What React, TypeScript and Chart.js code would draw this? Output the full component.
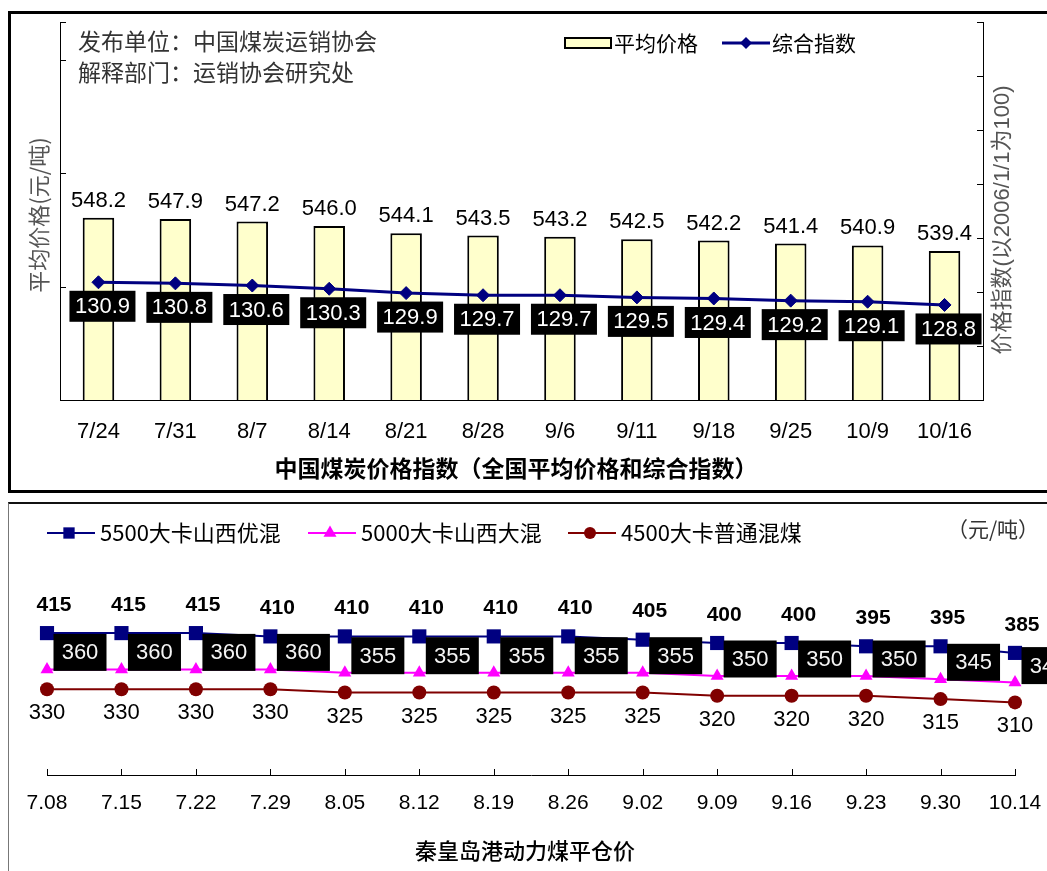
import React, { useEffect, useRef } from "react";
import { Chart, registerables } from "chart.js";

Chart.register(...registerables);

// ---------- data: top chart ----------
const topCategories = ["7/24", "7/31", "8/7", "8/14", "8/21", "8/28", "9/6", "9/11", "9/18", "9/25", "10/9", "10/16"];
const avgPrice = [548.2, 547.9, 547.2, 546.0, 544.1, 543.5, 543.2, 542.5, 542.2, 541.4, 540.9, 539.4];
const priceIndex = [130.9, 130.8, 130.6, 130.3, 129.9, 129.7, 129.7, 129.5, 129.4, 129.2, 129.1, 128.8];
const leftTickValues = [500, 530, 560, 590, 600];
const rightTickValues = [120, 125, 130, 135, 140, 145, 150, 155];

// ---------- data: bottom chart ----------
const bottomCategories = ["7.08", "7.15", "7.22", "7.29", "8.05", "8.12", "8.19", "8.26", "9.02", "9.09", "9.16", "9.23", "9.30", "10.14"];
const coal5500 = [415, 415, 415, 410, 410, 410, 410, 410, 405, 400, 400, 395, 395, 385];
const coal5000 = [360, 360, 360, 360, 355, 355, 355, 355, 355, 350, 350, 350, 345, 340];
const coal4500 = [330, 330, 330, 330, 325, 325, 325, 325, 325, 320, 320, 320, 315, 310];

const LAT = '"Liberation Sans", Arial, "Noto Sans CJK SC", sans-serif';
const NARROW = '"Liberation Sans Narrow", "Arial Narrow", "Liberation Sans", Arial, sans-serif';
const CJK = '"Noto Sans CJK SC", "Liberation Sans", sans-serif';

const NAVY = "#000080";
const MAGENTA = "#FF00FF";
const DARKRED = "#800000";

function drawMarker(ctx: CanvasRenderingContext2D, style: string, x: number, y: number, r: number, color: string) {
  ctx.beginPath();
  if (style === "rect") {
    const s = r * Math.SQRT1_2;
    ctx.rect(x - s, y - s, 2 * s, 2 * s);
  } else if (style === "rectRot") {
    ctx.moveTo(x - r, y);
    ctx.lineTo(x, y - r);
    ctx.lineTo(x + r, y);
    ctx.lineTo(x, y + r);
    ctx.closePath();
  } else if (style === "triangle") {
    let a = 0;
    ctx.moveTo(x + Math.sin(a) * r, y - Math.cos(a) * r);
    a += (2 * Math.PI) / 3;
    ctx.lineTo(x + Math.sin(a) * r, y - Math.cos(a) * r);
    a += (2 * Math.PI) / 3;
    ctx.lineTo(x + Math.sin(a) * r, y - Math.cos(a) * r);
    ctx.closePath();
  } else {
    ctx.arc(x, y, r, 0, Math.PI * 2);
  }
  ctx.fillStyle = color;
  ctx.fill();
}

const topPlugin = {
  id: "topDecor",
  afterDatasetsDraw(chart: any) {
    const ctx: CanvasRenderingContext2D = chart.ctx;
    const xs = chart.scales.x;
    const ys = chart.scales.y;
    const y1 = chart.scales.y1;
    const area = chart.chartArea;
    ctx.save();

    // inside tick marks
    ctx.strokeStyle = "#000";
    ctx.lineWidth = 1;
    leftTickValues.forEach((v) => {
      const py = Math.round(ys.getPixelForValue(v)) + 0.5;
      ctx.beginPath();
      ctx.moveTo(area.left, py);
      ctx.lineTo(area.left + 6, py);
      ctx.stroke();
    });
    rightTickValues.forEach((v) => {
      const py = Math.round(y1.getPixelForValue(v)) + 0.5;
      ctx.beginPath();
      ctx.moveTo(area.right - 6, py);
      ctx.lineTo(area.right, py);
      ctx.stroke();
    });

    // bar value labels
    ctx.textAlign = "center";
    ctx.textBaseline = "middle";
    ctx.fillStyle = "#000";
    ctx.font = `22px ${LAT}`;
    const barMeta = chart.getDatasetMeta(0);
    barMeta.data.forEach((el: any, i: number) => {
      ctx.fillText(avgPrice[i].toFixed(1), el.x, el.y - 17);
    });

    // index labels (black boxes)
    const lineMeta = chart.getDatasetMeta(1);
    ctx.font = `22px ${LAT}`;
    lineMeta.data.forEach((el: any, i: number) => {
      const cx = el.x + 4;
      const cy = el.y + 24;
      ctx.fillStyle = "#000";
      ctx.fillRect(cx - 33, cy - 15.5, 66, 31);
      ctx.fillStyle = "#fff";
      ctx.fillText(priceIndex[i].toFixed(1), cx, cy + 1);
    });

    // x labels
    ctx.fillStyle = "#000";
    ctx.font = `22px ${LAT}`;
    topCategories.forEach((c, i) => {
      ctx.fillText(c, xs.getPixelForValue(i), 432);
    });

    // title
    ctx.font = `bold 23px ${CJK}`;
    ctx.fillText("中国煤炭价格指数（全国平均价格和综合指数）", 516, 468);

    // axis titles
    ctx.fillStyle = "#555";
    ctx.save();
    ctx.translate(39, 215);
    ctx.rotate(-Math.PI / 2);
    ctx.font = `22px ${CJK}`;
    ctx.fillText("平均价格(元/吨)", 0, 0);
    ctx.restore();
    ctx.save();
    ctx.translate(1003, 220);
    ctx.rotate(-Math.PI / 2);
    ctx.font = `22px ${LAT}`;
    ctx.fillText("价格指数(以2006/1/1为100)", 0, 0);
    ctx.restore();

    // annotation text
    ctx.textAlign = "left";
    ctx.fillStyle = "#333";
    ctx.font = `23px ${CJK}`;
    ctx.fillText("发布单位：中国煤炭运销协会", 78, 41);
    ctx.fillText("解释部门：运销协会研究处", 78, 72);

    // legend
    ctx.fillStyle = "#FFFFCC";
    ctx.fillRect(565, 38, 46, 10);
    ctx.strokeStyle = "#000";
    ctx.lineWidth = 2;
    ctx.strokeRect(565, 38, 46, 10);
    ctx.fillStyle = "#000";
    ctx.font = `21px ${CJK}`;
    ctx.fillText("平均价格", 614, 43);
    ctx.strokeStyle = NAVY;
    ctx.lineWidth = 3;
    ctx.beginPath();
    ctx.moveTo(722, 43);
    ctx.lineTo(770, 43);
    ctx.stroke();
    drawMarker(ctx, "rectRot", 746, 43, 6, NAVY);
    ctx.fillStyle = "#000";
    ctx.fillText("综合指数", 772, 43);

    ctx.restore();
  },
};

const BOTTOM_TOP = 505;

const bottomPlugin = {
  id: "bottomDecor",
  afterDatasetsDraw(chart: any) {
    const ctx: CanvasRenderingContext2D = chart.ctx;
    const xs = chart.scales.x;
    const area = chart.chartArea;
    const oy = BOTTOM_TOP;
    ctx.save();

    // tick marks (upward)
    ctx.strokeStyle = "#000";
    ctx.lineWidth = 1;
    bottomCategories.forEach((_, i) => {
      const px = Math.round(xs.getPixelForValue(i)) + 0.5;
      ctx.beginPath();
      ctx.moveTo(px, area.bottom);
      ctx.lineTo(px, area.bottom - 6);
      ctx.stroke();
    });

    ctx.textAlign = "center";
    ctx.textBaseline = "middle";

    // x labels
    ctx.fillStyle = "#000";
    ctx.font = `21px ${NARROW}`;
    bottomCategories.forEach((c, i) => {
      ctx.fillText(c, xs.getPixelForValue(i), 803 - oy);
    });

    // series labels
    const m0 = chart.getDatasetMeta(0);
    const m1 = chart.getDatasetMeta(1);
    const m2 = chart.getDatasetMeta(2);
    ctx.font = `bold 21px ${LAT}`;
    ctx.fillStyle = "#000";
    m0.data.forEach((el: any, i: number) => {
      ctx.fillText(String(coal5500[i]), el.x + 7, el.y - 28);
    });
    ctx.font = `22px ${LAT}`;
    m2.data.forEach((el: any, i: number) => {
      ctx.fillText(String(coal4500[i]), el.x, el.y + 24);
    });
    m1.data.forEach((el: any, i: number) => {
      const cx = el.x + 33;
      const cy = el.y - 17;
      ctx.fillStyle = "#000";
      ctx.fillRect(cx - 26.5, cy - 18.5, 53, 37);
      ctx.fillStyle = "#f4f4f4";
      ctx.fillText(String(coal5000[i]), cx, cy + 1);
    });

    // legend
    const items = [
      { x: 47, label: "5500大卡山西优混", color: NAVY, style: "rect", r: 8 },
      { x: 308, label: "5000大卡山西大混", color: MAGENTA, style: "triangle", r: 7.5 },
      { x: 568, label: "4500大卡普通混煤", color: DARKRED, style: "circle", r: 6 },
    ];
    const ly = 533 - oy;
    ctx.textAlign = "left";
    ctx.font = `22px ${CJK}`;
    items.forEach((it) => {
      ctx.strokeStyle = it.color;
      ctx.lineWidth = 2;
      ctx.beginPath();
      ctx.moveTo(it.x, ly);
      ctx.lineTo(it.x + 48, ly);
      ctx.stroke();
      drawMarker(ctx, it.style, it.x + 22, ly, it.r, it.color);
      ctx.fillStyle = "#000";
      ctx.fillText(it.label, it.x + 53, ly);
    });

    // unit
    ctx.textAlign = "center";
    ctx.fillStyle = "#333";
    ctx.font = `21px ${CJK}`;
    ctx.fillText("（元/吨）", 993, 529 - oy);

    // title
    ctx.fillStyle = "#000";
    ctx.font = `500 22px ${CJK}`;
    ctx.fillText("秦皇岛港动力煤平仓价", 525, 851 - oy);

    ctx.restore();
  },
};

export default function App() {
  const topRef = useRef<HTMLCanvasElement>(null);
  const bottomRef = useRef<HTMLCanvasElement>(null);

  useEffect(() => {
    const top = new Chart(topRef.current as HTMLCanvasElement, {
      type: "bar",
      data: {
        labels: topCategories,
        datasets: [
          {
            type: "bar",
            label: "平均价格",
            data: avgPrice,
            yAxisID: "y",
            backgroundColor: "#FFFFCC",
            borderColor: "#000",
            borderWidth: 2,
            barPercentage: 0.41,
            categoryPercentage: 1,
            order: 2,
          } as any,
          {
            type: "line",
            label: "综合指数",
            data: priceIndex,
            yAxisID: "y1",
            borderColor: NAVY,
            backgroundColor: NAVY,
            borderWidth: 3,
            pointStyle: "rectRot",
            pointRadius: 6.5,
            pointBorderWidth: 1,
            tension: 0,
            clip: false,
            order: 1,
          } as any,
        ],
      },
      options: {
        responsive: false,
        animation: false,
        devicePixelRatio: 1,
        layout: { padding: { left: 60, right: 64, top: 22, bottom: 95 } },
        plugins: { legend: { display: false }, tooltip: { enabled: false } },
        scales: {
          x: {
            grid: { display: false, drawTicks: false },
            ticks: { display: false },
            border: { display: true, color: "#000", width: 1 },
            afterFit: (s: any) => {
              s.height = 0;
            },
          },
          y: {
            position: "left",
            min: 500,
            max: 600,
            grid: { display: false, drawTicks: false },
            ticks: { display: false },
            border: { display: true, color: "#000", width: 1 },
            afterFit: (s: any) => {
              s.width = 0;
            },
          },
          y1: {
            position: "right",
            min: 120,
            max: 155,
            grid: { display: false, drawTicks: false },
            ticks: { display: false },
            border: { display: true, color: "#000", width: 1 },
            afterFit: (s: any) => {
              s.width = 0;
            },
          },
        },
      } as any,
      plugins: [topPlugin],
    });

    const bottom = new Chart(bottomRef.current as HTMLCanvasElement, {
      type: "line",
      data: {
        labels: bottomCategories,
        datasets: [
          {
            label: "5500大卡山西优混",
            data: coal5500,
            borderColor: NAVY,
            backgroundColor: NAVY,
            borderWidth: 2,
            pointStyle: "rect",
            pointRadius: 10,
            pointBorderWidth: 0,
            tension: 0,
            clip: false,
          },
          {
            label: "5000大卡山西大混",
            data: coal5000,
            borderColor: MAGENTA,
            backgroundColor: MAGENTA,
            borderWidth: 2,
            pointStyle: "triangle",
            pointRadius: 7.5,
            pointBorderWidth: 0,
            tension: 0,
            clip: false,
          },
          {
            label: "4500大卡普通混煤",
            data: coal4500,
            borderColor: DARKRED,
            backgroundColor: DARKRED,
            borderWidth: 2,
            pointStyle: "circle",
            pointRadius: 7,
            pointBorderWidth: 0,
            tension: 0,
            clip: false,
          },
        ] as any,
      },
      options: {
        responsive: false,
        animation: false,
        devicePixelRatio: 1,
        layout: { padding: { left: 47, right: 32, top: 72, bottom: 96 } },
        plugins: { legend: { display: false }, tooltip: { enabled: false } },
        scales: {
          x: {
            offset: false,
            grid: { display: false, drawTicks: false },
            ticks: { display: false },
            border: { display: true, color: "#000", width: 1 },
            afterFit: (s: any) => {
              s.height = 0;
            },
          },
          y: {
            display: false,
            min: 200,
            max: 500,
          },
        },
      } as any,
      plugins: [bottomPlugin],
    });

    return () => {
      top.destroy();
      bottom.destroy();
    };
  }, []);

  return (
    <div
      style={{
        position: "absolute",
        left: 0,
        top: 0,
        width: 1047,
        height: 871,
        background: "#fff",
        overflow: "hidden",
      }}
    >
      <canvas
        ref={topRef}
        width={1047}
        height={495}
        style={{ position: "absolute", left: 0, top: 0, width: 1047, height: 495 }}
      />
      <canvas
        ref={bottomRef}
        width={1047}
        height={366}
        style={{ position: "absolute", left: 0, top: BOTTOM_TOP, width: 1047, height: 366 }}
      />
      <div
        style={{
          position: "absolute",
          left: 8,
          top: 11,
          width: 1100,
          height: 482,
          boxSizing: "border-box",
          borderLeft: "3px solid #000",
          borderTop: "3px solid #000",
          borderBottom: "3px solid #000",
          pointerEvents: "none",
        }}
      />
      <div
        style={{
          position: "absolute",
          left: 8,
          top: 502,
          width: 1100,
          height: 400,
          boxSizing: "border-box",
          borderLeft: "1px solid #777",
          borderTop: "2px solid #111",
          pointerEvents: "none",
        }}
      />
    </div>
  );
}
